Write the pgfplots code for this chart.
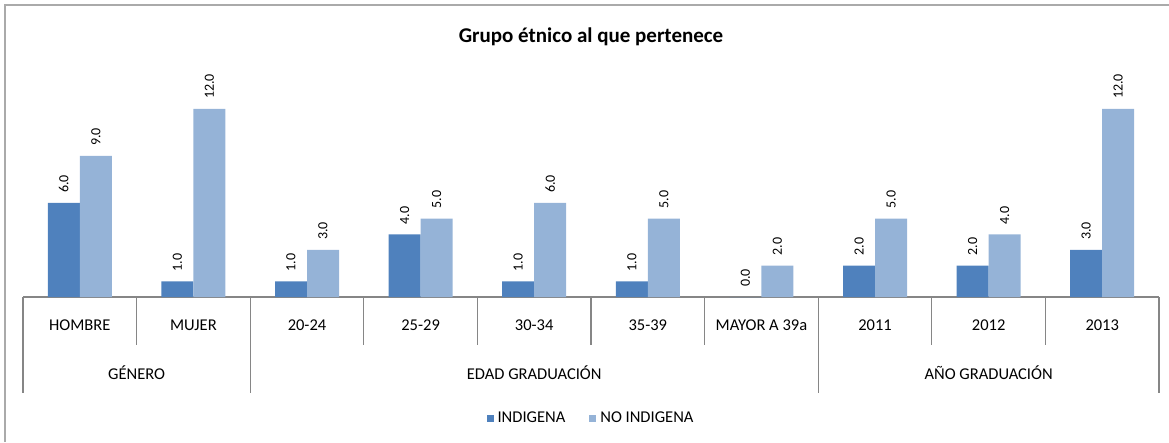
\documentclass[border=0pt]{standalone}
\usepackage{fontspec}
\setmainfont{Carlito}
\usepackage{pgfplots}
\pgfplotsset{compat=1.18}
\definecolor{dark}{RGB}{79,129,189}
\definecolor{light}{RGB}{149,179,215}
\definecolor{axgray}{RGB}{134,134,134}
\definecolor{bordergray}{RGB}{170,170,170}
\begin{document}
\begin{tikzpicture}[x=1pt,y=1pt]
\begin{axis}[
  at={(23pt,145pt)}, anchor=south west,
  scale only axis, width=1136pt, height=219.4pt,
  xmin=-0.5, xmax=9.5, ymin=0, ymax=14,
  axis x line*=bottom, axis y line=none,
  x axis line style={axgray, line width=1.3pt},
  ybar=0pt, bar width=32pt,
  xtick={0,...,9},
  xticklabels={HOMBRE,MUJER,20-24,25-29,30-34,35-39,MAYOR A 39a,2011,2012,2013},
  major tick length=0pt,
  xticklabel style={anchor=center, yshift=-28pt, font=\fontsize{16.5}{19}\selectfont},
  ytick=\empty,
  clip=false,
  title={Grupo étnico al que pertenece},
  title style={at={(0.5,1)}, anchor=center, yshift=35pt, font=\fontsize{21}{25}\selectfont\bfseries},
  nodes near coords,
  nodes near coords style={rotate=90, anchor=west, inner xsep=10pt, font=\fontsize{14}{16}\selectfont, /pgf/number format/.cd, fixed, fixed zerofill, precision=1, assume math mode=true},
  legend style={at={(0.5,-0.5515)}, anchor=center, draw=none, legend columns=2, font=\fontsize{16.5}{19}\selectfont,
    /tikz/every odd column/.append style={column sep=2pt},
    /tikz/every even column/.append style={column sep=22pt}},
]
\addplot[fill=dark, draw=none, legend image code/.code={\fill[dark] (0pt,-3.5pt) rectangle (7pt,3.5pt);}]
  coordinates {(0,6) (1,1) (2,1) (3,4) (4,1) (5,1) (6,0) (7,2) (8,2) (9,3)};
\addplot[fill=light, draw=none, legend image code/.code={\fill[light] (0pt,-3.5pt) rectangle (7pt,3.5pt);}]
  coordinates {(0,9) (1,12) (2,3) (3,5) (4,6) (5,5) (6,2) (7,5) (8,4) (9,12)};
\legend{INDIGENA, NO INDIGENA}
\pgfplotsinvokeforeach{0.5,2.5,3.5,4.5,5.5,7.5,8.5}{
  \draw[axgray, line width=1.3pt] (axis cs:#1,0) -- ([yshift=-48pt]axis cs:#1,0);
}
\pgfplotsinvokeforeach{-0.5,1.5,6.5,9.5}{
  \draw[axgray, line width=1.3pt] (axis cs:#1,0) -- ([yshift=-96pt]axis cs:#1,0);
}
\node[font=\fontsize{16.5}{19}\selectfont, yshift=-76pt] at (axis cs:0.5,0) {GÉNERO};
\node[font=\fontsize{16.5}{19}\selectfont, yshift=-76pt] at (axis cs:4,0) {EDAD GRADUACIÓN};
\node[font=\fontsize{16.5}{19}\selectfont, yshift=-76pt] at (axis cs:8,0) {AÑO GRADUACIÓN};
\end{axis}
\draw[bordergray, line width=2pt] (5pt,0pt) -- (5pt,437pt) -- (1169pt,437pt);
\pgfresetboundingbox
\path[use as bounding box] (0,0) rectangle (1169pt,442pt);
\end{tikzpicture}
\end{document}
